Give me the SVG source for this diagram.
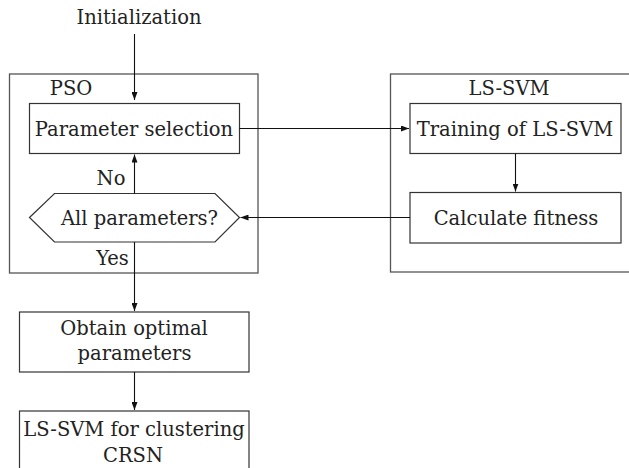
<svg xmlns="http://www.w3.org/2000/svg" width="629" height="468" viewBox="0 0 629 468">
<defs>
<marker id="arr" viewBox="0 0 8 6" refX="8" refY="3" markerWidth="8" markerHeight="6" markerUnits="userSpaceOnUse" orient="auto">
<path d="M0,0 L8,3 L0,6 Z" fill="#111"/>
</marker>
<style>
.t{font-family:"DejaVu Serif","Liberation Serif",serif;font-size:19.5px;fill:#222;text-anchor:middle}
.outer{fill:#fff;stroke:#555;stroke-width:1.3}
.box{fill:#fff;stroke:#333;stroke-width:1.2}
</style>
</defs>
<rect width="629" height="468" fill="#fff"/>
<g id="pso">
<rect class="outer" x="9.5" y="74" width="248.5" height="199"/>
<text class="t" x="71" y="95">PSO</text>
</g>
<g id="lssvm">
<rect class="outer" x="390.5" y="74" width="250" height="198"/>
<text class="t" x="509" y="95">LS-SVM</text>
</g>
<g id="init">
<text class="t" x="139" y="24">Initialization</text>
</g>
<g id="param">
<rect class="box" x="29.5" y="103.5" width="210" height="50"/>
<text class="t" x="134" y="136">Parameter selection</text>
</g>
<g id="allparams">
<polygon class="box" points="29.5,217.5 54.5,193.5 215,193.5 239.5,217.5 215,242 54.5,242"/>
<text class="t" x="139.5" y="225">All parameters?</text>
</g>
<g id="training">
<rect class="box" x="410" y="103.5" width="211" height="50"/>
<text class="t" x="515" y="136">Training of LS-SVM</text>
</g>
<g id="fitness">
<rect class="box" x="410" y="192.5" width="211" height="50.5"/>
<text class="t" x="516" y="225">Calculate fitness</text>
</g>
<g id="obtain">
<rect class="box" x="19.5" y="312" width="229.5" height="60"/>
<text class="t" x="134" y="335">Obtain optimal</text>
<text class="t" x="134.5" y="360">parameters</text>
</g>
<g id="clustering">
<rect class="box" x="19.5" y="411" width="229.5" height="70"/>
<text class="t" x="134" y="436">LS-SVM for clustering</text>
<text class="t" x="133" y="462">CRSN</text>
</g>
<g id="labels">
<text class="t" x="111" y="185">No</text>
<text class="t" x="112.5" y="265">Yes</text>
</g>
<g id="connectors" fill="none" stroke="#111" stroke-width="1.1" marker-end="url(#arr)">
<line x1="134.5" y1="34" x2="134.5" y2="100"/>
<line x1="239.5" y1="128.5" x2="409" y2="128.5"/>
<line x1="515.5" y1="153.5" x2="515.5" y2="191.5"/>
<line x1="410" y1="217.5" x2="240.5" y2="217.5"/>
<line x1="134.5" y1="193.5" x2="134.5" y2="154.5"/>
<line x1="134.5" y1="242" x2="134.5" y2="311"/>
<line x1="134.5" y1="372" x2="134.5" y2="410"/>
</g>
</svg>
